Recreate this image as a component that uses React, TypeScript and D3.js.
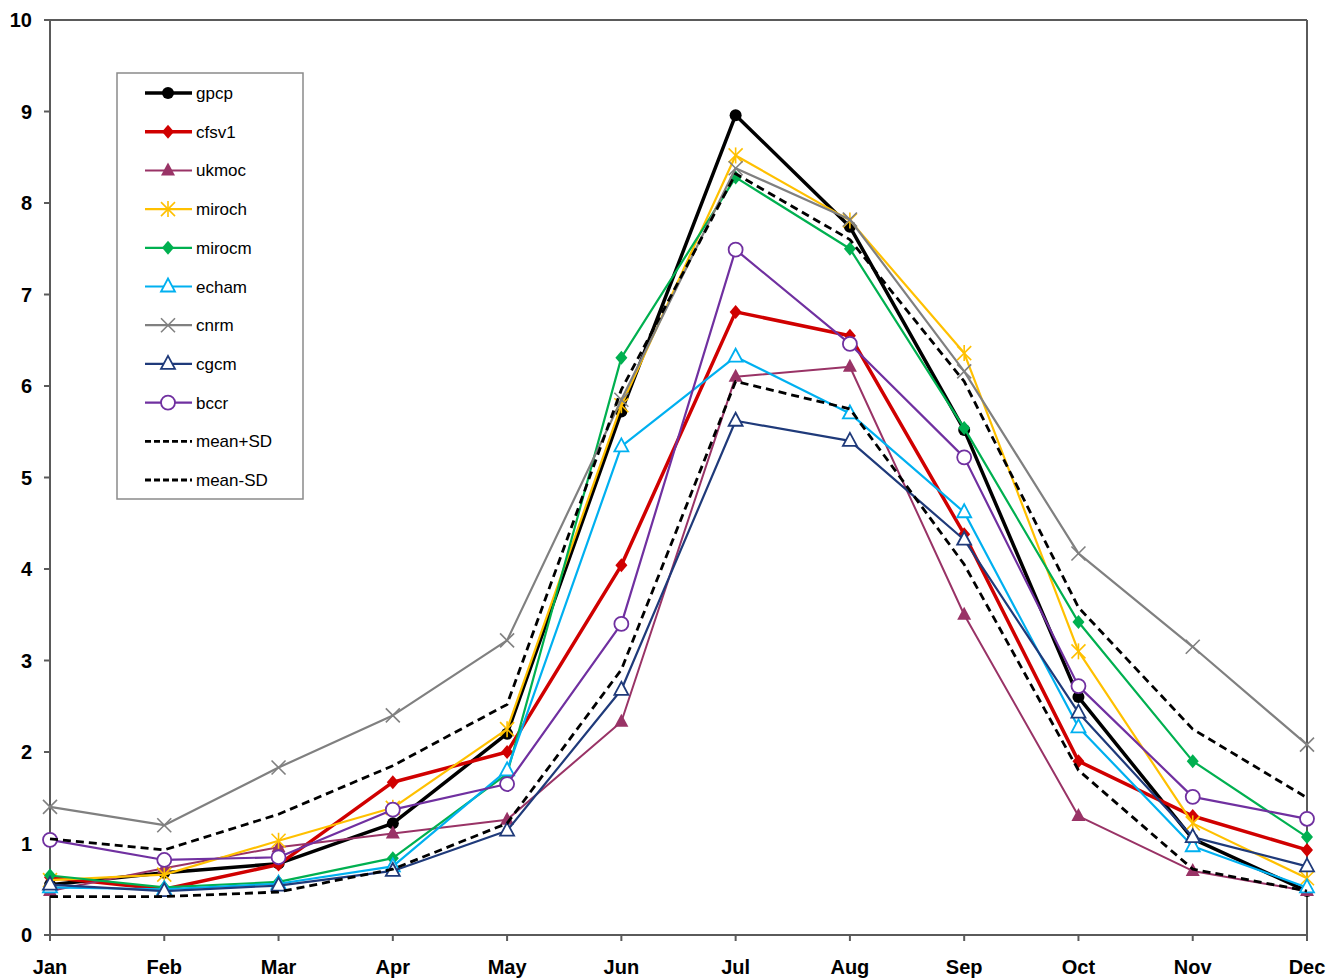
import React from "react";
import * as d3 from "d3";

const months = ["Jan", "Feb", "Mar", "Apr", "May", "Jun", "Jul", "Aug", "Sep", "Oct", "Nov", "Dec"];
const yTicks = [0, 1, 2, 3, 4, 5, 6, 7, 8, 9, 10];

const gpcp = [0.55, 0.68, 0.78, 1.22, 2.2, 5.72, 8.96, 7.74, 5.52, 2.6, 1.05, 0.48];
const cfsv1 = [0.63, 0.5, 0.77, 1.67, 2.0, 4.04, 6.81, 6.55, 4.38, 1.9, 1.3, 0.93];
const ukmoc = [0.48, 0.73, 0.96, 1.11, 1.26, 2.33, 6.1, 6.21, 3.5, 1.3, 0.7, 0.48];
const miroch = [0.6, 0.66, 1.03, 1.39, 2.25, 5.79, 8.52, 7.81, 6.36, 3.1, 1.22, 0.62];
const mirocm = [0.65, 0.52, 0.58, 0.84, 1.76, 6.31, 8.28, 7.5, 5.54, 3.42, 1.9, 1.07];
const echam = [0.52, 0.5, 0.56, 0.75, 1.8, 5.34, 6.32, 5.7, 4.62, 2.27, 0.97, 0.52];
const cnrm = [1.4, 1.2, 1.83, 2.4, 3.22, 5.85, 8.38, 7.82, 6.16, 4.17, 3.15, 2.08];
const cgcm = [0.55, 0.48, 0.54, 0.7, 1.14, 2.68, 5.62, 5.4, 4.32, 2.43, 1.07, 0.75];
const bccr = [1.04, 0.82, 0.85, 1.37, 1.65, 3.4, 7.49, 6.46, 5.22, 2.72, 1.51, 1.27];
const meanPlusSD = [1.05, 0.93, 1.32, 1.85, 2.52, 5.96, 8.32, 7.6, 6.05, 3.58, 2.25, 1.5];
const meanMinusSD = [0.42, 0.42, 0.47, 0.72, 1.22, 2.9, 6.05, 5.75, 4.05, 1.8, 0.72, 0.48];

type Marker = "circle" | "diamond" | "triangle" | "star" | "x" | "otriangle" | "ocircle" | "none";
interface S { name: string; values: number[]; color: string; width: number; marker: Marker; dash?: string }

const series: S[] = [
  { name: "gpcp", values: gpcp, color: "#000000", width: 3.5, marker: "circle" },
  { name: "cfsv1", values: cfsv1, color: "#D00000", width: 3.5, marker: "diamond" },
  { name: "ukmoc", values: ukmoc, color: "#993366", width: 2, marker: "triangle" },
  { name: "miroch", values: miroch, color: "#FFC000", width: 2.2, marker: "star" },
  { name: "mirocm", values: mirocm, color: "#00B050", width: 2.2, marker: "diamond" },
  { name: "echam", values: echam, color: "#00B0F0", width: 2.2, marker: "otriangle" },
  { name: "cnrm", values: cnrm, color: "#808080", width: 2.2, marker: "x" },
  { name: "cgcm", values: cgcm, color: "#1F3A7A", width: 2.2, marker: "otriangle" },
  { name: "bccr", values: bccr, color: "#7030A0", width: 2.2, marker: "ocircle" },
  { name: "mean+SD", values: meanPlusSD, color: "#000000", width: 2.8, marker: "none", dash: "8,5" },
  { name: "mean-SD", values: meanMinusSD, color: "#000000", width: 2.8, marker: "none", dash: "8,5" },
];

function MarkerShape({ m, x, y, color }: { m: Marker; x: number; y: number; color: string }) {
  switch (m) {
    case "circle":
      return <circle cx={x} cy={y} r={6} fill={color} />;
    case "diamond":
      return <path d={`M${x},${y - 7}L${x + 6},${y}L${x},${y + 7}L${x - 6},${y}Z`} fill={color} />;
    case "triangle":
      return <path d={`M${x},${y - 8}L${x + 7},${y + 5}L${x - 7},${y + 5}Z`} fill={color} />;
    case "otriangle":
      return <path d={`M${x},${y - 8}L${x + 7},${y + 5}L${x - 7},${y + 5}Z`} fill="#fff" stroke={color} strokeWidth={1.8} />;
    case "ocircle":
      return <circle cx={x} cy={y} r={7} fill="#fff" stroke={color} strokeWidth={1.8} />;
    case "star":
      return (
        <g stroke={color} strokeWidth={1.6}>
          <line x1={x - 7} y1={y - 7} x2={x + 7} y2={y + 7} />
          <line x1={x - 7} y1={y + 7} x2={x + 7} y2={y - 7} />
          <line x1={x} y1={y - 8} x2={x} y2={y + 8} />
        </g>
      );
    case "x":
      return (
        <g stroke={color} strokeWidth={1.6}>
          <line x1={x - 7} y1={y - 7} x2={x + 7} y2={y + 7} />
          <line x1={x - 7} y1={y + 7} x2={x + 7} y2={y - 7} />
        </g>
      );
    default:
      return null;
  }
}

export default function App() {
  const W = 1341, H = 979;
  const left = 50, right = 1307, top = 20, bottom = 935;
  const x = d3.scalePoint<string>().domain(months).range([left, right]);
  const y = d3.scaleLinear().domain([0, 10]).range([bottom, top]);
  const line = d3.line<number>().x((_, i) => x(months[i]) as number).y((d) => y(d));
  const axisColor = "#5a5a5a";
  const font = "'Liberation Sans', Arial, sans-serif";

  const legX = 117, legY = 73, legW = 186, legH = 426;
  const legStep = 38.7;

  return (
    <svg width={W} height={H} style={{ position: "absolute", left: 0, top: 0, background: "#fff" }} fontFamily={font}>
      <rect x={0} y={0} width={W} height={H} fill="#fff" />
      <line x1={left} y1={top} x2={right} y2={top} stroke={axisColor} strokeWidth={2} />
      <line x1={right} y1={top} x2={right} y2={bottom} stroke={axisColor} strokeWidth={2} />
      <line x1={left} y1={top} x2={left} y2={bottom} stroke={axisColor} strokeWidth={2} />
      <line x1={left} y1={bottom} x2={right} y2={bottom} stroke={axisColor} strokeWidth={2} />
      {yTicks.map((t) => (
        <g key={t}>
          <line x1={left - 6} x2={left} y1={y(t)} y2={y(t)} stroke={axisColor} strokeWidth={2} />
          <text x={32} y={y(t) + 7} textAnchor="end" fontSize={20} fontWeight="bold" fill="#000">{t}</text>
        </g>
      ))}
      {months.map((m) => (
        <g key={m}>
          <line x1={x(m)} x2={x(m)} y1={bottom} y2={bottom + 6} stroke={axisColor} strokeWidth={2} />
          <text x={x(m)} y={974} textAnchor="middle" fontSize={20} fontWeight="bold" fill="#000">{m}</text>
        </g>
      ))}
      {series.map((s) => (
        <g key={s.name}>
          <path d={line(s.values) || ""} fill="none" stroke={s.color} strokeWidth={s.width} strokeDasharray={s.dash} strokeLinejoin="round" />
          {s.values.map((v, i) => (
            <MarkerShape key={i} m={s.marker} x={x(months[i]) as number} y={y(v)} color={s.color} />
          ))}
        </g>
      ))}
      <rect x={legX} y={legY} width={legW} height={legH} fill="#fff" stroke="#8a8a8a" strokeWidth={1.5} />
      {series.map((s, i) => {
        const ly = 93 + i * legStep;
        return (
          <g key={s.name}>
            <line x1={145} x2={192} y1={ly} y2={ly} stroke={s.color} strokeWidth={s.width} strokeDasharray={s.dash ? "6,3" : undefined} />
            <MarkerShape m={s.marker} x={168} y={ly} color={s.color} />
            <text x={196} y={ly + 6} fontSize={17} fill="#000">{s.name}</text>
          </g>
        );
      })}
    </svg>
  );
}
